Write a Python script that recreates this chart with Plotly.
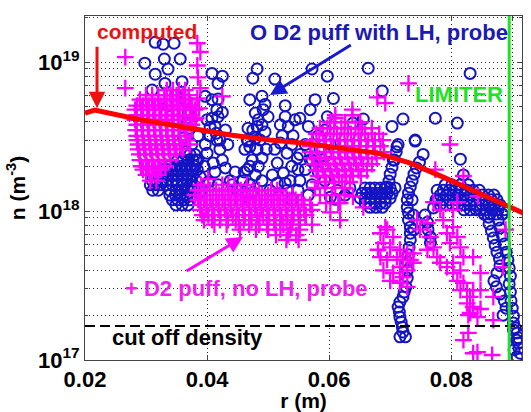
import plotly.graph_objects as go

# ---------------- data ----------------
# computed density profile (red line)
comp_r = [0.0200, 0.0216, 0.0287, 0.0384, 0.0438, 0.0503, 0.0557, 0.0679, 0.0733, 0.0787, 0.0843, 0.0897, 0.0918]
comp_n = [4.55e18, 4.77e18, 4.14e18, 3.50e18, 3.24e18, 3.0e18, 2.86e18, 2.45e18, 2.10e18, 1.69e18, 1.32e18, 1.06e18, 0.97e18]

cutoff_n = 1.69e17
limiter_r = 0.0895

# D2 puff with LH, probe (blue circles)
lh_r = [
    0.0315, 0.0328, 0.0346, 0.0298, 0.0330, 0.0356, 0.0336, 0.0315, 0.0359, 0.0331,
    0.0310, 0.0349, 0.0364, 0.0336, 0.0369, 0.0352, 0.0372, 0.0361, 0.0375, 0.0366,
    0.0408, 0.0425, 0.0418, 0.0397, 0.0418, 0.0416, 0.0418, 0.0413, 0.0405, 0.0421,
    0.0482, 0.0475, 0.0511, 0.0495, 0.0479, 0.0500, 0.0482, 0.0467, 0.0490, 0.0470,
    0.0528, 0.0528, 0.0533, 0.0523, 0.0539, 0.0572, 0.0597, 0.0664, 0.0687, 0.0607,
    0.0569, 0.0597, 0.0639, 0.0656, 0.0703, 0.0566, 0.0582, 0.0561, 0.0585, 0.0569,
    0.0831, 0.0721, 0.0774, 0.0810, 0.0741, 0.0815, 0.0820, 0.0754, 0.0711, 0.0705,
    0.0405, 0.0416, 0.0400, 0.0410, 0.0389, 0.0377, 0.0367, 0.0397, 0.0421, 0.0413,
    0.0402, 0.0389, 0.0425, 0.0430, 0.0418, 0.0408, 0.0415, 0.0395, 0.0382,
    0.0408, 0.0425, 0.0400, 0.0430, 0.0385, 0.0434, 0.0382, 0.0438,
    0.0475, 0.0466, 0.0482, 0.0474, 0.0466, 0.0459, 0.0449, 0.0487, 0.0490, 0.0479,
    0.0470, 0.0457, 0.0484, 0.0492, 0.0462, 0.0470,
    0.0490, 0.0467, 0.0495, 0.0480, 0.0470, 0.0497, 0.0484, 0.0461, 0.0490, 0.0475,
    0.0454, 0.0441, 0.0446,
    0.0520, 0.0531, 0.0515, 0.0525, 0.0515, 0.0531, 0.0539, 0.0536, 0.0507, 0.0523,
    0.0544, 0.0520, 0.0541, 0.0511, 0.0548, 0.0528, 0.0503, 0.0539,
    0.0552, 0.0572, 0.0561, 0.0582, 0.0552, 0.0572, 0.0549, 0.0566, 0.0589, 0.0593,
    0.0602, 0.0613, 0.0626, 0.0634, 0.0610,
    0.0577, 0.0552, 0.0593, 0.0602, 0.0549,
    0.0364, 0.0372, 0.0380,
    0.0352, 0.0361, 0.0369, 0.0377, 0.0385,
    0.0339, 0.0348, 0.0356, 0.0364, 0.0372, 0.0380,
    0.0326, 0.0334, 0.0343, 0.0351, 0.0359, 0.0367, 0.0375, 0.0384,
    0.0320, 0.0328, 0.0336, 0.0344, 0.0352, 0.0361, 0.0369, 0.0377,
    0.0310, 0.0318, 0.0326, 0.0334, 0.0343, 0.0351, 0.0359, 0.0367, 0.0375,
    0.0307, 0.0315, 0.0323, 0.0333, 0.0343, 0.0352, 0.0362, 0.0372,
    0.0311, 0.0320, 0.0339, 0.0349, 0.0359, 0.0369, 0.0379,
    0.0339, 0.0348, 0.0356, 0.0366, 0.0375,
    0.0343, 0.0352, 0.0362, 0.0372,
    0.0349, 0.0359, 0.0369,
    0.0713, 0.0710, 0.0707, 0.0703, 0.0700, 0.0698, 0.0695,
    0.0659, 0.0667, 0.0675, 0.0684, 0.0692, 0.0700, 0.0708,
    0.0654, 0.0662, 0.0670, 0.0679, 0.0687, 0.0695, 0.0703,
    0.0651, 0.0659, 0.0667, 0.0675, 0.0684, 0.0692, 0.0700,
    0.0659, 0.0667, 0.0675, 0.0684, 0.0692,
    0.0667, 0.0677, 0.0687,
    0.0741, 0.0748, 0.0743, 0.0739, 0.0736, 0.0733, 0.0730, 0.0728, 0.0728, 0.0730,
    0.0730, 0.0733, 0.0733, 0.0733, 0.0731, 0.0730, 0.0728, 0.0728, 0.0728, 0.0726,
    0.0721, 0.0713, 0.0716, 0.0720, 0.0716, 0.0725, 0.0736, 0.0738, 0.0739, 0.0723,
    0.0716, 0.0715, 0.0718, 0.0721,
    0.0757, 0.0761, 0.0762, 0.0766, 0.0766, 0.0771, 0.0775,
    0.0790, 0.0801, 0.0815, 0.0828,
    0.0777, 0.0787, 0.0797, 0.0807, 0.0816, 0.0826, 0.0836, 0.0846,
    0.0782, 0.0792, 0.0802, 0.0811, 0.0821, 0.0831, 0.0841, 0.0851, 0.0861, 0.0870,
    0.0777, 0.0787, 0.0797, 0.0807, 0.0816, 0.0826, 0.0836, 0.0846, 0.0856, 0.0866, 0.0875,
    0.0782, 0.0792, 0.0802, 0.0811, 0.0821, 0.0831, 0.0841, 0.0851, 0.0861, 0.0870, 0.0880,
    0.0821, 0.0831, 0.0841, 0.0848, 0.0857, 0.0867, 0.0877, 0.0887,
    0.0854, 0.0864, 0.0874, 0.0884,
    0.0861, 0.0862, 0.0866, 0.0869, 0.0872, 0.0875, 0.0879, 0.0880, 0.0875, 0.0870,
    0.0874, 0.0880, 0.0887, 0.0890, 0.0885,
    0.0877, 0.0880, 0.0884, 0.0887, 0.0890, 0.0893, 0.0895, 0.0897, 0.0895, 0.0897,
    0.0898, 0.0900, 0.0902,
    0.0902, 0.0905, 0.0908, 0.0910, 0.0910, 0.0911, 0.0913, 0.0908, 0.0903, 0.0907,
    0.0902,
]
lh_n = [
    1.36e19, 1.32e19, 1.34e19, 9.85e18, 1.05e19, 1.05e19, 8.98e18, 8.3e18, 7.4e18, 7.2e18,
    6.5e18, 6.0e18, 5.6e18, 5.1e18, 4.6e18, 4.1e18, 3.6e18, 3.1e18, 2.8e18, 2.5e18,
    8.4e18, 8.05e18, 7.2e18, 5.9e18, 5.65e18, 4.8e18, 4.3e18, 3.7e18, 3.2e18, 3.0e18,
    9.0e18, 7.8e18, 7.7e18, 5.2e18, 4.55e18, 4.3e18, 3.7e18, 2.95e18, 5.9e18, 5.6e18,
    5.1e18, 4.3e18, 3.7e18, 3.2e18, 2.8e18, 9.0e18, 8.05e18, 9.1e18, 6.4e18, 5.7e18,
    4.8e18, 4.3e18, 3.9e18, 4.15e18, 3.7e18, 3.7e18, 3.2e18, 2.8e18, 2.6e18, 2.2e18,
    8.4e18, 4.15e18, 4.2e18, 3.9e18, 2.95e18, 2.23e18, 1.75e18, 2.4e18, 2.7e18, 2.2e18,
    3.66e18, 3.0e18, 2.45e18, 2.1e18, 1.69e18, 1.45e18, 1.24e18, 2.8e18, 2.6e18, 1.83e18,
    1.57e18, 1.34e18, 2.2e18, 1.95e18, 1.5e18, 4.2e18, 3.33e18, 2.0e18, 1.6e18,
    5.6e18, 4.6e18, 4.1e18, 3.5e18, 3.2e18, 2.8e18, 2.2e18, 1.6e18,
    3.5e18, 3.0e18, 2.6e18, 2.2e18, 1.9e18, 1.6e18, 1.38e18, 3.0e18, 2.27e18, 1.75e18,
    1.5e18, 1.28e18, 4.1e18, 4.8e18, 2.6e18, 2.0e18,
    3.8e18, 3.6e18, 3.4e18, 3.1e18, 2.7e18, 2.6e18, 2.0e18, 1.83e18, 1.6e18, 1.34e18,
    1.19e18, 1.5e18, 1.83e18,
    2.86e18, 2.45e18, 2.1e18, 1.8e18, 1.54e18, 1.38e18, 2.0e18, 1.6e18, 1.75e18, 1.28e18,
    4.1e18, 3.8e18, 3.2e18, 2.6e18, 2.27e18, 1.54e18, 1.38e18, 1.19e18,
    2.4e18, 2.2e18, 1.9e18, 1.83e18, 1.6e18, 1.5e18, 1.38e18, 1.28e18, 2.0e18, 1.6e18,
    1.24e18, 1.38e18, 1.28e18, 1.43e18, 1.2e18,
    5.6e18, 4.2e18, 3.5e18, 2.8e18, 1.9e18,
    2.4e18, 2.4e18, 2.4e18,
    2.2e18, 2.2e18, 2.2e18, 2.2e18, 2.2e18,
    2.0e18, 2.0e18, 2.0e18, 2.0e18, 2.0e18, 2.0e18,
    1.9e18, 1.9e18, 1.9e18, 1.9e18, 1.9e18, 1.9e18, 1.9e18, 1.9e18,
    1.75e18, 1.75e18, 1.75e18, 1.75e18, 1.75e18, 1.75e18, 1.75e18, 1.75e18,
    1.6e18, 1.6e18, 1.6e18, 1.6e18, 1.6e18, 1.6e18, 1.6e18, 1.6e18, 1.6e18,
    1.5e18, 1.5e18, 1.5e18, 1.5e18, 1.5e18, 1.5e18, 1.5e18, 1.5e18,
    1.38e18, 1.38e18, 1.38e18, 1.38e18, 1.38e18, 1.38e18, 1.38e18,
    1.28e18, 1.28e18, 1.28e18, 1.28e18, 1.28e18,
    1.19e18, 1.19e18, 1.19e18, 1.19e18,
    1.10e18, 1.10e18, 1.10e18,
    2.8e18, 2.5e18, 2.2e18, 1.97e18, 1.77e18, 1.59e18, 1.45e18,
    1.43e18, 1.43e18, 1.43e18, 1.43e18, 1.43e18, 1.43e18, 1.43e18,
    1.32e18, 1.32e18, 1.32e18, 1.32e18, 1.32e18, 1.32e18, 1.32e18,
    1.22e18, 1.22e18, 1.22e18, 1.22e18, 1.22e18, 1.22e18, 1.22e18,
    1.13e18, 1.13e18, 1.13e18, 1.13e18, 1.13e18,
    1.06e18, 1.06e18, 1.06e18,
    3.0e18, 2.13e18, 1.95e18, 1.77e18, 1.6e18, 1.45e18, 1.32e18, 1.19e18, 1.06e18, 9.7e17,
    8.7e17, 7.8e17, 7.1e17, 6.4e17, 5.7e17, 5.1e17, 4.55e17, 4.0e17, 3.55e17, 3.1e17,
    2.65e17, 2.27e17, 1.94e17, 1.66e17, 1.43e17, 1.43e17, 1.19e18, 9.4e17, 7.5e17, 2.86e17,
    2.45e17, 2.1e17, 1.8e17, 1.54e17,
    9.4e17, 8.4e17, 7.5e17, 6.7e17, 6.1e17, 1.05e18, 1.19e18,
    1.5e18, 1.5e18, 1.5e18, 1.5e18,
    1.38e18, 1.38e18, 1.38e18, 1.38e18, 1.38e18, 1.38e18, 1.38e18, 1.38e18,
    1.28e18, 1.28e18, 1.28e18, 1.28e18, 1.28e18, 1.28e18, 1.28e18, 1.28e18, 1.28e18, 1.28e18,
    1.19e18, 1.19e18, 1.19e18, 1.19e18, 1.19e18, 1.19e18, 1.19e18, 1.19e18, 1.19e18, 1.19e18, 1.19e18,
    1.10e18, 1.10e18, 1.10e18, 1.10e18, 1.10e18, 1.10e18, 1.10e18, 1.10e18, 1.10e18, 1.10e18, 1.10e18,
    1.02e18, 1.02e18, 1.02e18, 1.02e18, 1.02e18, 1.02e18, 1.02e18, 1.02e18,
    9.55e17, 9.55e17, 9.55e17, 9.55e17,
    9.1e17, 8.2e17, 7.35e17, 6.6e17, 5.9e17, 5.3e17, 4.8e17, 4.3e17, 3.84e17, 3.4e17,
    3.1e17, 2.77e17, 2.49e17, 2.23e17, 2.0e17,
    8.7e17, 7.7e17, 6.8e17, 6.0e17, 5.3e17, 4.7e17, 4.15e17, 3.66e17, 3.24e17, 2.86e17,
    2.5e17, 2.23e17, 1.97e17,
    1.77e17, 1.64e17, 1.52e17, 1.41e17, 1.30e17, 1.20e17, 1.11e17, 1.05e17, 1.17e17, 1.36e17,
    1.59e17,
]

# D2 puff, no LH, probe (magenta pluses)
nolh_r = [
    0.0266, 0.0266, 0.0384, 0.0389, 0.0384, 0.0385, 0.0389, 0.0384, 0.0387, 0.0382,
    0.0425, 0.0402, 0.0730, 0.0679, 0.0692, 0.0638, 0.0610, 0.0798, 0.0774, 0.0820,
    0.0844, 0.0618,
    0.0334, 0.0344, 0.0354, 0.0364,
    0.0300, 0.0310, 0.0320, 0.0330, 0.0340, 0.0350, 0.0360, 0.0370,
    0.0290, 0.0300, 0.0310, 0.0320, 0.0330, 0.0340, 0.0350, 0.0360, 0.0370,
    0.0285, 0.0295, 0.0305, 0.0315, 0.0325, 0.0335, 0.0345, 0.0355, 0.0365, 0.0375,
    0.0282, 0.0292, 0.0302, 0.0312, 0.0322, 0.0332, 0.0342, 0.0352, 0.0362, 0.0372, 0.0380,
    0.0285, 0.0295, 0.0305, 0.0315, 0.0325, 0.0335, 0.0345, 0.0355, 0.0365, 0.0375,
    0.0282, 0.0292, 0.0302, 0.0312, 0.0322, 0.0332, 0.0342, 0.0352, 0.0362, 0.0372, 0.0380,
    0.0285, 0.0295, 0.0305, 0.0315, 0.0325, 0.0335, 0.0345, 0.0355, 0.0365, 0.0375,
    0.0283, 0.0293, 0.0303, 0.0313, 0.0323, 0.0333, 0.0343, 0.0353, 0.0363, 0.0375,
    0.0285, 0.0295, 0.0305, 0.0315, 0.0325, 0.0335, 0.0345, 0.0355, 0.0365,
    0.0285, 0.0295, 0.0305, 0.0315, 0.0325, 0.0335, 0.0345, 0.0355, 0.0368,
    0.0287, 0.0297, 0.0307, 0.0317, 0.0327, 0.0337, 0.0347, 0.0357, 0.0372,
    0.0287, 0.0297, 0.0307, 0.0317, 0.0327, 0.0337, 0.0347, 0.0360,
    0.0289, 0.0299, 0.0309, 0.0319, 0.0329, 0.0339, 0.0350,
    0.0290, 0.0300, 0.0310, 0.0320, 0.0330, 0.0340,
    0.0292, 0.0302, 0.0312, 0.0322, 0.0332,
    0.0295, 0.0305, 0.0315, 0.0325,
    0.0300, 0.0310, 0.0320,
    0.0307, 0.0317,
    0.0390, 0.0425, 0.0435, 0.0445, 0.0465,
    0.0385, 0.0395, 0.0405, 0.0415, 0.0425, 0.0435, 0.0445, 0.0455, 0.0465, 0.0475, 0.0485, 0.0505, 0.0515,
    0.0380, 0.0390, 0.0400, 0.0410, 0.0420, 0.0430, 0.0440, 0.0450, 0.0460, 0.0470, 0.0480, 0.0490, 0.0500, 0.0510, 0.0520, 0.0530, 0.0540,
    0.0385, 0.0395, 0.0405, 0.0415, 0.0425, 0.0435, 0.0445, 0.0455, 0.0465, 0.0475, 0.0485, 0.0495, 0.0505, 0.0515, 0.0525, 0.0535, 0.0545, 0.0555,
    0.0389, 0.0399, 0.0409, 0.0419, 0.0429, 0.0439, 0.0449, 0.0459, 0.0469, 0.0479, 0.0489, 0.0499, 0.0509, 0.0519, 0.0529, 0.0539, 0.0549, 0.0559, 0.0569,
    0.0389, 0.0399, 0.0409, 0.0419, 0.0429, 0.0439, 0.0449, 0.0459, 0.0469, 0.0479, 0.0489, 0.0499, 0.0509, 0.0519, 0.0529, 0.0539, 0.0549, 0.0559, 0.0572,
    0.0392, 0.0402, 0.0412, 0.0422, 0.0432, 0.0442, 0.0452, 0.0462, 0.0472, 0.0482, 0.0492, 0.0502, 0.0512, 0.0522, 0.0532, 0.0542, 0.0552, 0.0562,
    0.0395, 0.0408, 0.0421, 0.0434, 0.0447, 0.0460, 0.0473, 0.0486, 0.0499, 0.0510, 0.0520, 0.0530, 0.0540, 0.0550,
    0.0412, 0.0432, 0.0452, 0.0469, 0.0485, 0.0498, 0.0512, 0.0525, 0.0538, 0.0551,
    0.0454, 0.0480, 0.0500, 0.0520, 0.0536, 0.0552,
    0.0513, 0.0533, 0.0546,
    0.0530, 0.0550,
    0.0610, 0.0638,
    0.0602, 0.0626, 0.0651,
    0.0585, 0.0597, 0.0608, 0.0620, 0.0631, 0.0643, 0.0654, 0.0670,
    0.0579, 0.0590, 0.0602, 0.0613, 0.0625, 0.0636, 0.0648, 0.0659, 0.0670, 0.0682,
    0.0572, 0.0584, 0.0595, 0.0607, 0.0618, 0.0630, 0.0641, 0.0652, 0.0664, 0.0675, 0.0688,
    0.0569, 0.0580, 0.0592, 0.0603, 0.0615, 0.0626, 0.0638, 0.0649, 0.0661, 0.0672, 0.0684,
    0.0569, 0.0580, 0.0592, 0.0603, 0.0615, 0.0626, 0.0638, 0.0649, 0.0661, 0.0675, 0.0690,
    0.0572, 0.0584, 0.0595, 0.0607, 0.0618, 0.0630, 0.0641, 0.0652, 0.0664, 0.0678,
    0.0575, 0.0587, 0.0598, 0.0610, 0.0621, 0.0633, 0.0644, 0.0656, 0.0670,
    0.0579, 0.0590, 0.0602, 0.0613, 0.0625, 0.0636, 0.0648, 0.0662,
    0.0582, 0.0593, 0.0605, 0.0616, 0.0628, 0.0639, 0.0652,
    0.0582, 0.0595, 0.0608, 0.0621, 0.0634,
    0.0577, 0.0593, 0.0610, 0.0626,
    0.0585, 0.0605, 0.0625,
    0.0595, 0.0615,
    0.0602,
    0.0684, 0.0695, 0.0705, 0.0689, 0.0700, 0.0684, 0.0695, 0.0711, 0.0689, 0.0705,
    0.0716, 0.0721, 0.0728, 0.0733, 0.0738, 0.0716, 0.0728, 0.0700, 0.0680, 0.0716,
    0.0728, 0.0738, 0.0721, 0.0692,
    0.0744, 0.0749, 0.0761, 0.0766, 0.0771, 0.0777, 0.0782, 0.0787, 0.0793, 0.0798,
    0.0803, 0.0810, 0.0815, 0.0820, 0.0761, 0.0782, 0.0803, 0.0771, 0.0810,
    0.0793, 0.0803, 0.0815, 0.0810, 0.0820, 0.0826, 0.0831, 0.0836, 0.0826, 0.0836,
    0.0848, 0.0831, 0.0843, 0.0815, 0.0848, 0.0803, 0.0836, 0.0848,
    0.0820, 0.0836, 0.0867, 0.0869, 0.0885, 0.0828, 0.0843, 0.0869, 0.0828, 0.0889,
    0.0618, 0.0639, 0.0656, 0.0561, 0.0572,
]
nolh_n = [
    1.08e19, 6.7e18, 1.34e19, 1.17e19, 9.5e18, 7.9e18, 6.7e18, 5.7e18, 4.9e18, 4.2e18,
    5.9e18, 1.64e18, 7.2e18, 5.8e18, 5.3e18, 4.8e18, 4.2e18, 2.8e18, 1.9e18, 1.72e18,
    1.26e18, 8.7e17,
    6.5e18, 6.5e18, 6.5e18, 6.5e18,
    6.0e18, 6.0e18, 6.0e18, 6.0e18, 6.0e18, 6.0e18, 6.0e18, 6.0e18,
    5.6e18, 5.6e18, 5.6e18, 5.6e18, 5.6e18, 5.6e18, 5.6e18, 5.6e18, 5.6e18,
    5.1e18, 5.1e18, 5.1e18, 5.1e18, 5.1e18, 5.1e18, 5.1e18, 5.1e18, 5.1e18, 5.1e18,
    4.8e18, 4.8e18, 4.8e18, 4.8e18, 4.8e18, 4.8e18, 4.8e18, 4.8e18, 4.8e18, 4.8e18, 4.8e18,
    4.4e18, 4.4e18, 4.4e18, 4.4e18, 4.4e18, 4.4e18, 4.4e18, 4.4e18, 4.4e18, 4.4e18,
    4.1e18, 4.1e18, 4.1e18, 4.1e18, 4.1e18, 4.1e18, 4.1e18, 4.1e18, 4.1e18, 4.1e18, 4.1e18,
    3.8e18, 3.8e18, 3.8e18, 3.8e18, 3.8e18, 3.8e18, 3.8e18, 3.8e18, 3.8e18, 3.8e18,
    3.5e18, 3.5e18, 3.5e18, 3.5e18, 3.5e18, 3.5e18, 3.5e18, 3.5e18, 3.5e18, 3.5e18,
    3.2e18, 3.2e18, 3.2e18, 3.2e18, 3.2e18, 3.2e18, 3.2e18, 3.2e18, 3.2e18,
    3.0e18, 3.0e18, 3.0e18, 3.0e18, 3.0e18, 3.0e18, 3.0e18, 3.0e18, 3.0e18,
    2.8e18, 2.8e18, 2.8e18, 2.8e18, 2.8e18, 2.8e18, 2.8e18, 2.8e18, 2.8e18,
    2.6e18, 2.6e18, 2.6e18, 2.6e18, 2.6e18, 2.6e18, 2.6e18, 2.6e18,
    2.4e18, 2.4e18, 2.4e18, 2.4e18, 2.4e18, 2.4e18, 2.4e18,
    2.2e18, 2.2e18, 2.2e18, 2.2e18, 2.2e18, 2.2e18,
    2.0e18, 2.0e18, 2.0e18, 2.0e18, 2.0e18,
    1.9e18, 1.9e18, 1.9e18, 1.9e18,
    1.75e18, 1.75e18, 1.75e18,
    1.6e18, 1.6e18,
    1.5e18, 1.5e18, 1.5e18, 1.5e18, 1.5e18,
    1.38e18, 1.38e18, 1.38e18, 1.38e18, 1.38e18, 1.38e18, 1.38e18, 1.38e18, 1.38e18, 1.38e18, 1.38e18, 1.38e18, 1.38e18,
    1.28e18, 1.28e18, 1.28e18, 1.28e18, 1.28e18, 1.28e18, 1.28e18, 1.28e18, 1.28e18, 1.28e18, 1.28e18, 1.28e18, 1.28e18, 1.28e18, 1.28e18, 1.28e18, 1.28e18,
    1.19e18, 1.19e18, 1.19e18, 1.19e18, 1.19e18, 1.19e18, 1.19e18, 1.19e18, 1.19e18, 1.19e18, 1.19e18, 1.19e18, 1.19e18, 1.19e18, 1.19e18, 1.19e18, 1.19e18, 1.19e18,
    1.10e18, 1.10e18, 1.10e18, 1.10e18, 1.10e18, 1.10e18, 1.10e18, 1.10e18, 1.10e18, 1.10e18, 1.10e18, 1.10e18, 1.10e18, 1.10e18, 1.10e18, 1.10e18, 1.10e18, 1.10e18, 1.10e18,
    1.02e18, 1.02e18, 1.02e18, 1.02e18, 1.02e18, 1.02e18, 1.02e18, 1.02e18, 1.02e18, 1.02e18, 1.02e18, 1.02e18, 1.02e18, 1.02e18, 1.02e18, 1.02e18, 1.02e18, 1.02e18, 1.02e18,
    9.4e17, 9.4e17, 9.4e17, 9.4e17, 9.4e17, 9.4e17, 9.4e17, 9.4e17, 9.4e17, 9.4e17, 9.4e17, 9.4e17, 9.4e17, 9.4e17, 9.4e17, 9.4e17, 9.4e17, 9.4e17,
    8.7e17, 8.7e17, 8.7e17, 8.7e17, 8.7e17, 8.7e17, 8.7e17, 8.7e17, 8.7e17, 8.7e17, 8.7e17, 8.7e17, 8.7e17, 8.7e17,
    8.1e17, 8.1e17, 8.1e17, 8.1e17, 8.1e17, 8.1e17, 8.1e17, 8.1e17, 8.1e17, 8.1e17,
    7.5e17, 7.5e17, 7.5e17, 7.5e17, 7.5e17, 7.5e17,
    6.9e17, 6.9e17, 6.9e17,
    6.4e17, 6.4e17,
    4.4e18, 4.4e18,
    3.95e18, 3.95e18, 3.95e18,
    3.6e18, 3.6e18, 3.6e18, 3.6e18, 3.6e18, 3.6e18, 3.6e18, 3.6e18,
    3.3e18, 3.3e18, 3.3e18, 3.3e18, 3.3e18, 3.3e18, 3.3e18, 3.3e18, 3.3e18, 3.3e18,
    3.0e18, 3.0e18, 3.0e18, 3.0e18, 3.0e18, 3.0e18, 3.0e18, 3.0e18, 3.0e18, 3.0e18, 3.0e18,
    2.73e18, 2.73e18, 2.73e18, 2.73e18, 2.73e18, 2.73e18, 2.73e18, 2.73e18, 2.73e18, 2.73e18, 2.73e18,
    2.49e18, 2.49e18, 2.49e18, 2.49e18, 2.49e18, 2.49e18, 2.49e18, 2.49e18, 2.49e18, 2.49e18, 2.49e18,
    2.27e18, 2.27e18, 2.27e18, 2.27e18, 2.27e18, 2.27e18, 2.27e18, 2.27e18, 2.27e18, 2.27e18,
    2.07e18, 2.07e18, 2.07e18, 2.07e18, 2.07e18, 2.07e18, 2.07e18, 2.07e18, 2.07e18,
    1.88e18, 1.88e18, 1.88e18, 1.88e18, 1.88e18, 1.88e18, 1.88e18, 1.88e18,
    1.72e18, 1.72e18, 1.72e18, 1.72e18, 1.72e18, 1.72e18, 1.72e18,
    1.57e18, 1.57e18, 1.57e18, 1.57e18, 1.57e18,
    1.43e18, 1.43e18, 1.43e18, 1.43e18,
    1.28e18, 1.28e18, 1.28e18,
    1.13e18, 1.13e18,
    9.8e17,
    7.1e17, 7.5e17, 6.7e17, 6.1e17, 5.7e17, 4.9e17, 4.7e17, 4.9e17, 4.0e17, 3.84e17,
    4.2e17, 3.6e17, 4.0e17, 4.7e17, 5.2e17, 3.3e17, 3.1e17, 3.4e17, 5.5e17, 5.5e17,
    5.2e17, 4.5e17, 4.7e17, 7.8e17,
    8.7e17, 7.5e17, 8.3e17, 6.7e17, 5.7e17, 4.9e17, 1.02e18, 8.7e17, 7.1e17, 6.1e17,
    7.8e17, 6.7e17, 5.7e17, 4.9e17, 5.5e17, 4.5e17, 1.02e18, 1.15e18, 1.15e18,
    4.2e17, 3.84e17, 4.0e17, 3.4e17, 3.3e17, 2.95e17, 2.65e17, 2.95e17, 2.4e17, 2.27e17,
    2.2e17, 2.07e17, 1.94e17, 2.95e17, 2.95e17, 4.5e17, 4.9e17, 3.84e17,
    1.36e17, 1.11e17, 1.08e17, 1.85e17, 4.2e17, 1.52e17, 1.13e17, 2.65e17, 2.0e17, 7.5e17,
    1.13e18, 1.25e18, 1.06e18, 9.4e17, 8.1e17,
]

assert len(lh_r) == len(lh_n), (len(lh_r), len(lh_n))
assert len(nolh_r) == len(nolh_n), (len(nolh_r), len(nolh_n))

x_ticks = [0.02, 0.04, 0.06, 0.08, 0.09]
x_ticktext = ["0.02", "0.04", "0.06", "0.08", "0.09"]
y_ticks = [1e17, 1e18, 1e19]
y_ticktext = ["10<sup>17</sup>", "10<sup>18</sup>", "10<sup>19</sup>"]
y_minor = [m * d for d in (1e17, 1e18, 1e19) for m in range(2, 10)]

# ---------------- figure ----------------
FONT = "Liberation Sans"
BLUE = "#1414c4"
MAG = "#ff00ff"
RED = "#ff0000"
GREEN = "#22e022"

fig = go.Figure()
fig.add_trace(go.Scatter(x=lh_r, y=lh_n, mode="markers",
                         marker=dict(symbol="circle-open", size=11, color=BLUE, line=dict(width=2, color=BLUE))))
fig.add_trace(go.Scatter(x=nolh_r, y=nolh_n, mode="markers",
                         marker=dict(symbol="cross-thin-open", size=12, color=MAG, line=dict(width=2.3, color=MAG))))
fig.add_trace(go.Scatter(x=comp_r, y=comp_n, mode="lines", line=dict(color=RED, width=5)))
fig.add_trace(go.Scatter(x=[0.02, 0.0916], y=[cutoff_n, cutoff_n], mode="lines",
                         line=dict(color="black", width=2, dash="10px,5px")))
fig.add_trace(go.Scatter(x=[limiter_r, limiter_r], y=[1e17, 2.1e19], mode="lines",
                         line=dict(color=GREEN, width=3)))

grid = dict(showgrid=True, gridcolor="#222222", gridwidth=1, griddash="1px,3px")
fig.update_layout(
    width=531, height=412,
    margin=dict(l=85, r=9, t=16, b=52),
    paper_bgcolor="white", plot_bgcolor="white",
    showlegend=False,
    font=dict(family=FONT, color="black"),
    xaxis=dict(range=[0.02, 0.0916], tickmode="array", tickvals=x_ticks, ticktext=x_ticktext,
               ticks="inside", ticklen=5, tickcolor="#444", showline=True, mirror="ticks",
               linecolor="#444", linewidth=1, zeroline=False, automargin=False,
               tickfont=dict(family=FONT, size=22, color="black", weight="bold"),
               title=dict(text="<b>r (m)</b>", font=dict(family=FONT, size=21, color="black"), standoff=2),
               **grid),
    yaxis=dict(type="log", range=[17, 19.31], tickmode="array", tickvals=y_ticks, ticktext=y_ticktext,
               ticks="inside", ticklen=5, tickcolor="#444", showline=True, mirror="ticks",
               linecolor="#444", linewidth=1, zeroline=False, automargin=False,
               tickfont=dict(family=FONT, size=22, color="black", weight="bold"),
               title=dict(text="<b>n (m<sup>-3</sup>)</b>", font=dict(family=FONT, size=21, color="black"), standoff=6),
               minor=dict(tickmode="array", tickvals=y_minor, ticks="inside", ticklen=3, tickcolor="#444",
                          showgrid=True, gridcolor="#222222", gridwidth=1, griddash="1px,3px"),
               **grid),
)

def label(x, y, text, color, size=22):
    return dict(x=x, y=y, xref="x", yref="y", text="<b>" + text + "</b>", showarrow=False,
                xanchor="left", yanchor="middle", font=dict(family=FONT, size=size, color=color))

def arrow(x, y, ax, ay, color):
    return dict(x=x, y=y, ax=ax, ay=ay, xref="x", yref="y", axref="x", ayref="y", text="",
                showarrow=True, arrowhead=2, arrowsize=1.1, arrowwidth=3, arrowcolor=color)

fig.update_layout(annotations=[
    label(0.0216, 19.208, "computed", "#ee1111", 21),
    label(0.0467, 19.201, "O D2 puff with LH, probe", "#1a1ab4", 22),
    label(0.07377, 18.785, "LIMITER", GREEN, 22),
    label(0.02623, 17.483, "+ D2 puff, no LH, probe", "#ee22ee", 22),
    label(0.0241, 17.154, "cut off density", "black", 22),
    arrow(0.02197, 18.69, 0.02197, 19.114, "#ee1111"),
    arrow(0.0503, 18.779, 0.0638, 19.121, "#1a1ad0"),
    arrow(0.0459, 17.826, 0.0364, 17.591, "#ff00ff"),
])

fig.write_html("out.html")
